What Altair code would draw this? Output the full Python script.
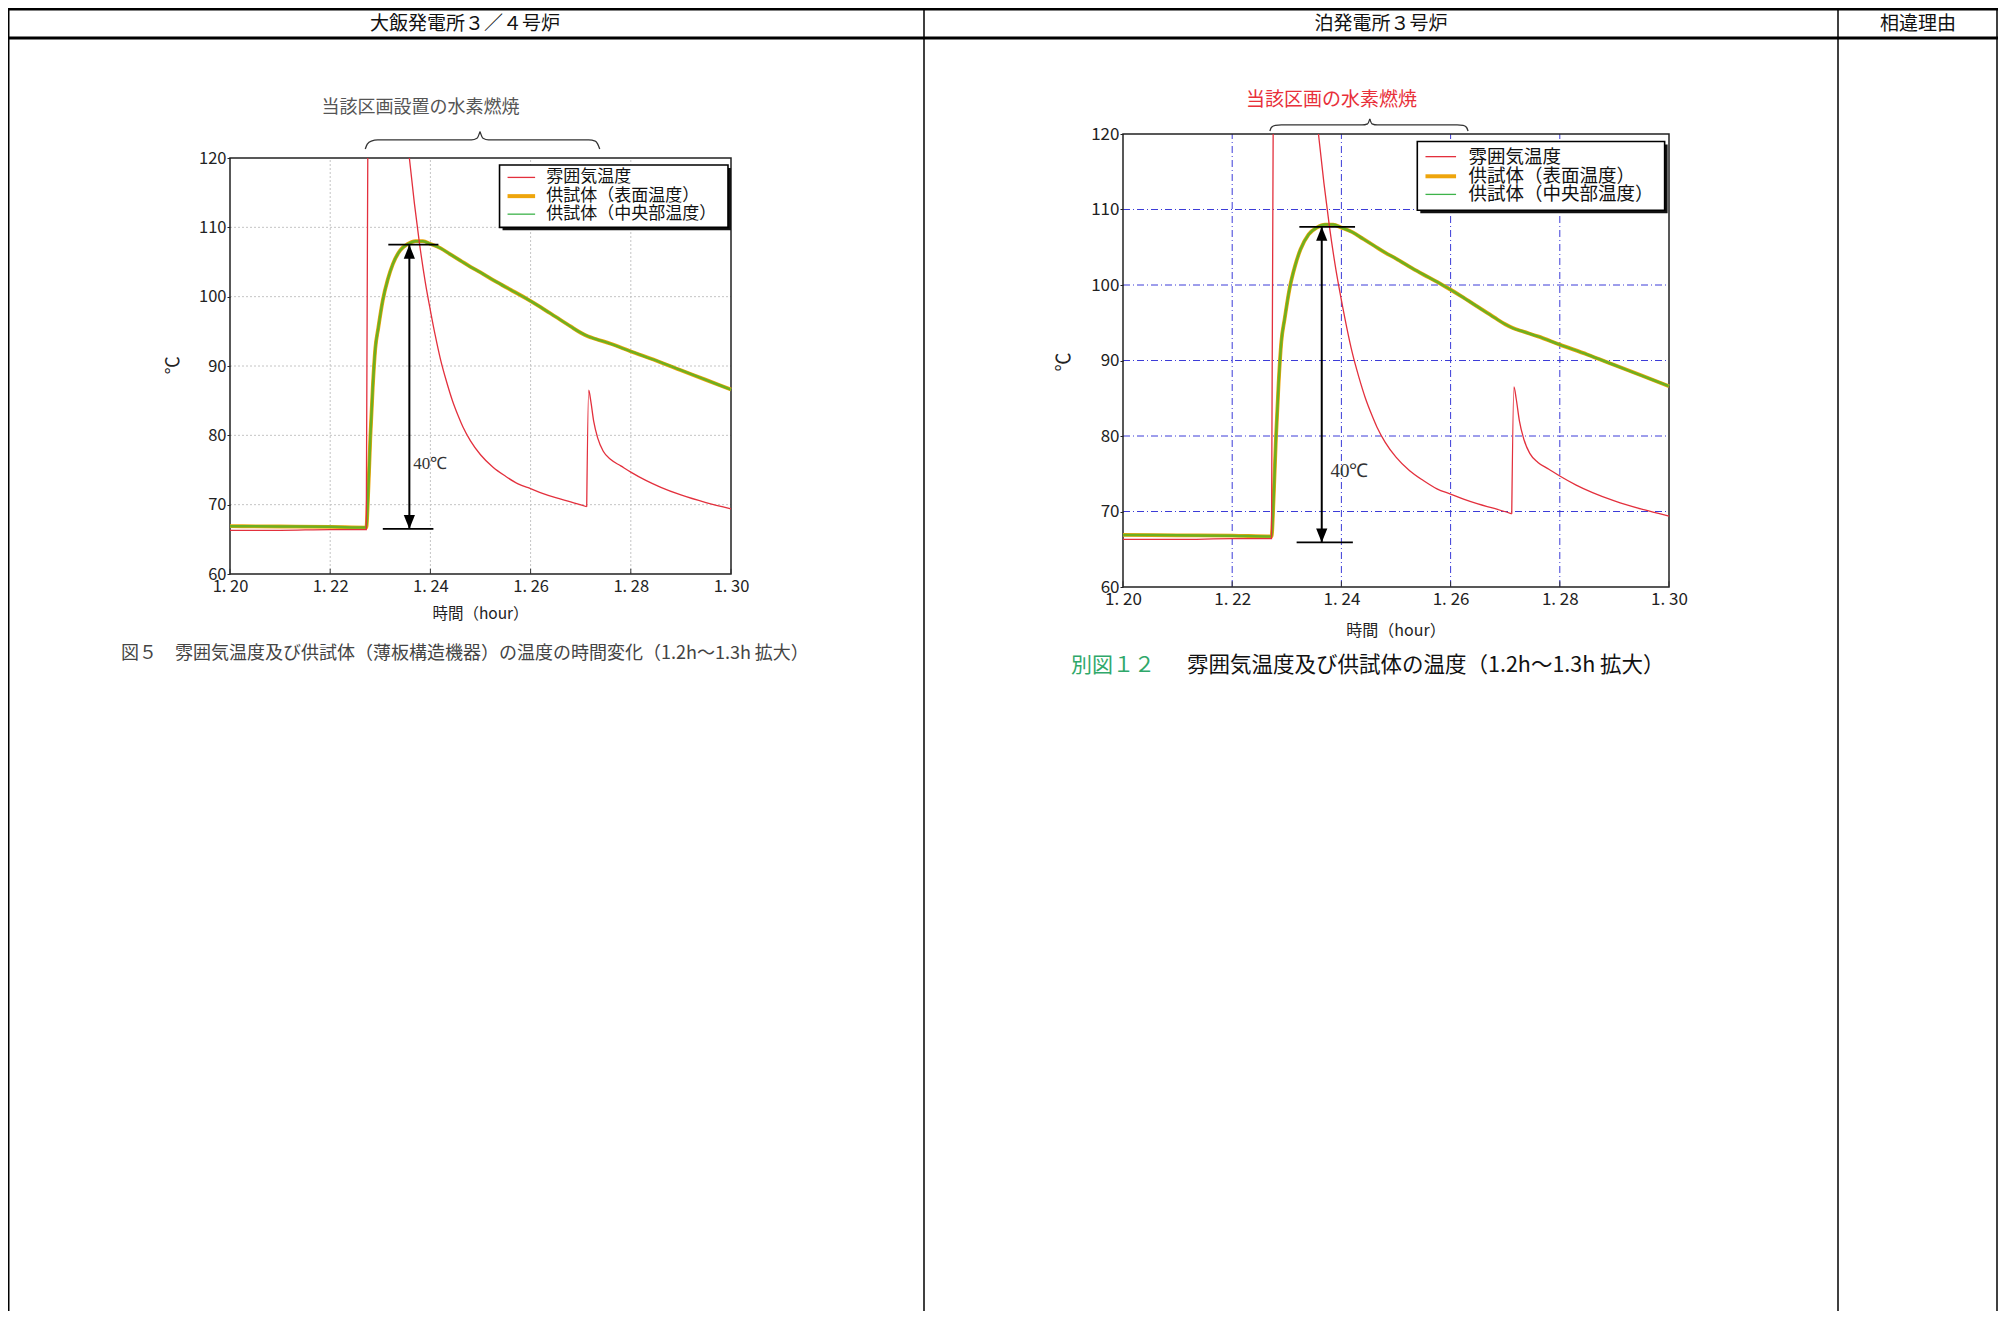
import altair as alt
import pandas as pd

W, H = 1990, 1303
JP = "Noto Sans CJK JP"

# ---------------- values ----------------
x_ticks = [1.20, 1.22, 1.24, 1.26, 1.28, 1.30]
y_ticks = [60, 70, 80, 90, 100, 110, 120]
grid_x = [1.22, 1.24, 1.26, 1.28]
grid_y = [70, 80, 90, 100, 110]

# 雰囲気温度 (red): segment a leaves the top of the plot, b comes back in, c is the second spike
atm_a_t = [1.2000, 1.2100, 1.2200, 1.2272, 1.2275]
atm_a_v = [66.3, 66.3, 66.4, 66.4, 120.0]
atm_b_t = [1.2358, 1.2368, 1.2378, 1.2390, 1.2400, 1.2410, 1.2420, 1.2432, 1.2444,
           1.2455, 1.2465, 1.2480, 1.2500, 1.2525, 1.2550, 1.2575, 1.2600, 1.2625,
           1.2650, 1.2680, 1.2712]
atm_b_v = [120.0, 113.5, 107.8, 102.0, 98.0, 94.3, 91.0, 87.8, 85.0,
           82.9, 81.2, 79.2, 77.2, 75.4, 74.1, 73.0, 72.3, 71.6,
           71.0, 70.4, 69.7]
atm_c_t = [1.2712, 1.2716, 1.2720, 1.2726, 1.2734, 1.2745, 1.2760,
           1.2780, 1.2800, 1.2830, 1.2860, 1.2900, 1.2950, 1.3000]
atm_c_v = [69.7, 86.5, 85.0, 82.0, 79.6, 77.7, 76.5,
           75.6, 74.7, 73.5, 72.5, 71.4, 70.3, 69.4]

# 供試体 (表面温度 / 中央部温度)
spec_t = [1.2000, 1.2100, 1.2200, 1.2272, 1.2276, 1.2280, 1.2285, 1.2290, 1.2296,
          1.2305, 1.2315, 1.2325, 1.2340, 1.2355, 1.2370, 1.2385, 1.2400, 1.2420,
          1.2440, 1.2460, 1.2480, 1.2500, 1.2530, 1.2560, 1.2590, 1.2620, 1.2650,
          1.2680, 1.2700, 1.2714, 1.2730, 1.2760, 1.2800, 1.2850, 1.2900, 1.2950, 1.3000]
surface_v = [66.9, 66.85, 66.8, 66.7, 72.0, 79.5, 87.0, 92.5, 95.5,
             99.5, 102.5, 104.7, 106.7, 107.6, 108.0, 108.0, 107.6, 107.0,
             106.1, 105.2, 104.3, 103.5, 102.2, 101.0, 99.8, 98.5, 97.1,
             95.7, 94.8, 94.3, 93.9, 93.2, 92.1, 90.8, 89.4, 88.0, 86.6]
center_v = [66.9, 66.85, 66.8, 66.7, 72.0, 79.5, 87.0, 92.5, 95.5,
            99.5, 102.5, 104.7, 106.7, 107.6, 108.0, 108.0, 107.6, 107.0,
            106.1, 105.2, 104.3, 103.5, 102.2, 101.0, 99.8, 98.5, 97.1,
            95.7, 94.8, 94.3, 93.9, 93.2, 92.1, 90.8, 89.4, 88.0, 86.6]

legend_labels = ["雰囲気温度", "供試体（表面温度）", "供試体（中央部温度）"]

RED = "#e3303d"
ORANGE = "#eea50c"
GREEN = "#6db020"
LEG_GREEN = "#3db34a"

panels = [
    dict(x0=222, x1=723, ybot=566, ytop=150, grid="#c4c4c4", dash=[2, 2], lab=16.5,
         leg=17, arrow_x=1.2358, a_top=107.5, a_bot=66.5, tbar=(1.2316, 1.2416),
         bbar=(1.2305, 1.2406), l40=(1.2366, 75.9), l40size=17,
         box=(1.2538, 1.2994, 110.0, 119.0), sh=(0.0006, 0.43), samp=(1.2554, 1.2609),
         txt_x=1.2631, rows=[117.2, 114.5, 111.9],
         title="当該区画設置の水素燃焼", title_pos=(1.2380, 127.2), title_color="#555555",
         title_size=18,
         brace_l=[(1.2270, 121.3), (1.2274, 122.0), (1.2282, 122.45), (1.2295, 122.6),
                  (1.2482, 122.6), (1.2493, 122.85), (1.2499, 123.8)],
         brace_r=[(1.2499, 123.8), (1.2505, 122.85), (1.2516, 122.6), (1.2716, 122.6),
                  (1.2729, 122.45), (1.2734, 122.0), (1.2738, 121.3)],
         deg=(1.1888, 90.1), degsize=18, xt=(1.25, 54.2), xtsize=15.5),
    dict(x0=1115, x1=1661, ybot=579, ytop=126, grid="#3c3cd8", dash=[7, 3, 1, 3], lab=17,
         leg=18.5, arrow_x=1.2364, a_top=107.7, a_bot=65.9, tbar=(1.2323, 1.2425),
         bbar=(1.2318, 1.2421), l40=(1.2380, 75.3), l40size=19,
         box=(1.2539, 1.2992, 109.9, 119.0), sh=(0.00055, 0.40), samp=(1.2554, 1.2610),
         txt_x=1.2633, rows=[117.0, 114.4, 112.0],
         title="当該区画の水素燃焼", title_pos=(1.2382, 124.5), title_color="#e8303a",
         title_size=19,
         brace_l=[(1.2269, 120.4), (1.2272, 120.9), (1.2279, 121.15), (1.2290, 121.2),
                  (1.2438, 121.2), (1.2448, 121.35), (1.2452, 122.0)],
         brace_r=[(1.2452, 122.0), (1.2456, 121.35), (1.2466, 121.2), (1.2612, 121.2),
                  (1.2623, 121.15), (1.2629, 120.9), (1.2632, 120.4)],
         deg=(1.1892, 89.8), degsize=19, xt=(1.25, 54.2), xtsize=16),
]


def sx(p):
    return alt.Scale(domain=[1.2, 1.3], range=[p["x0"], p["x1"]], nice=False, zero=False)


def sy(p):
    return alt.Scale(domain=[60, 120], range=[p["ybot"], p["ytop"]], nice=False, zero=False)


def X(field, p, axis=None):
    return alt.X(field, type="quantitative", scale=sx(p), axis=axis)


def Y(field, p, axis=None):
    return alt.Y(field, type="quantitative", scale=sy(p), axis=axis)


layers = []
dummy = pd.DataFrame({"d": [0]})

# ---------------- table frame ----------------
for xv in [0.75, 916, 1830, 1989]:
    layers.append(alt.Chart(dummy).mark_rule(color="black", strokeWidth=1.5).encode(
        x=alt.value(xv), y=alt.value(0), y2=alt.value(H)))
layers.append(alt.Chart(dummy).mark_rule(color="black", strokeWidth=2.5).encode(
    x=alt.value(0), x2=alt.value(W), y=alt.value(1.2)))
layers.append(alt.Chart(dummy).mark_rule(color="black", strokeWidth=3).encode(
    x=alt.value(0), x2=alt.value(W), y=alt.value(30)))

for txt, cx in [("大飯発電所３／４号炉", 457), ("泊発電所３号炉", 1373), ("相違理由", 1910)]:
    layers.append(alt.Chart(dummy).mark_text(font=JP, fontSize=19, color="#111111",
                                             align="center", baseline="middle").encode(
        x=alt.value(cx), y=alt.value(15.5), text=alt.value(txt)))

# ---------------- panels ----------------
for p in panels:
    frame = pd.DataFrame({"a": [1.2], "b": [1.3], "c": [60], "d": [120]})
    gx = pd.DataFrame({"t": grid_x, "lo": [60] * len(grid_x), "hi": [120] * len(grid_x)})
    gy = pd.DataFrame({"v": grid_y, "lo": [1.2] * len(grid_y), "hi": [1.3] * len(grid_y)})
    tk = pd.DataFrame({"t": x_ticks, "lo": [60] * len(x_ticks), "hi": [60.75] * len(x_ticks)})

    layers.append(alt.Chart(gx).mark_rule(color=p["grid"], strokeWidth=1,
                                          strokeDash=p["dash"]).encode(
        x=X("t", p), y=Y("lo", p), y2="hi"))
    layers.append(alt.Chart(gy).mark_rule(color=p["grid"], strokeWidth=1,
                                          strokeDash=p["dash"]).encode(
        y=Y("v", p), x=X("lo", p), x2="hi"))

    xaxis = alt.Axis(orient="bottom", offset=-(H - p["ybot"]), values=x_ticks,
                     labelExpr="replace(format(datum.value, '.2f'), '.', '. ')",
                     labelFont=JP, labelFontSize=p["lab"], labelColor="#222222",
                     labelPadding=4, tickSize=0, domain=False, grid=False,
                     labelFlush=False, labelOverlap=False, title=None)
    yaxis = alt.Axis(orient="left", offset=-p["x0"], values=y_ticks,
                     labelFont=JP, labelFontSize=p["lab"], labelColor="#222222",
                     labelPadding=1, tickSize=3, tickColor="#222222", domain=False,
                     grid=False, labelFlush=False, labelOverlap=False, title=None)
    layers.append(alt.Chart(frame).mark_rect(fillOpacity=0, stroke="#222222",
                                             strokeWidth=1.5).encode(
        x=X("a", p, xaxis), x2="b", y=Y("c", p, yaxis), y2="d"))
    layers.append(alt.Chart(tk).mark_rule(color="#333333", strokeWidth=1).encode(
        x=X("t", p), y=Y("lo", p), y2="hi"))

    # data lines
    surf = pd.DataFrame({"t": spec_t, "v": surface_v})
    cent = pd.DataFrame({"t": spec_t, "v": center_v})
    atm = pd.DataFrame({"t": atm_a_t + atm_b_t + atm_c_t,
                        "v": atm_a_v + atm_b_v + atm_c_v,
                        "seg": ["a"] * len(atm_a_t) + ["b"] * len(atm_b_t) + ["c"] * len(atm_c_t)})
    layers.append(alt.Chart(surf).mark_line(color=ORANGE, strokeWidth=3.8,
                                            interpolate="monotone").encode(
        x=X("t", p), y=Y("v", p)))
    layers.append(alt.Chart(cent).mark_line(color=GREEN, strokeWidth=2.5,
                                            interpolate="monotone").encode(
        x=X("t", p), y=Y("v", p)))
    layers.append(alt.Chart(atm).mark_line(color=RED, strokeWidth=1.3,
                                           interpolate="monotone").encode(
        x=X("t", p), y=Y("v", p), detail="seg:N"))

    # 40℃ arrow
    arr = pd.DataFrame({"t": [p["arrow_x"]], "lo": [p["a_bot"]], "hi": [p["a_top"]]})
    layers.append(alt.Chart(arr).mark_rule(color="black", strokeWidth=2).encode(
        x=X("t", p), y=Y("lo", p), y2="hi"))
    bars = pd.DataFrame({"v": [p["a_top"], p["a_bot"]],
                         "l": [p["tbar"][0], p["bbar"][0]],
                         "r": [p["tbar"][1], p["bbar"][1]]})
    layers.append(alt.Chart(bars).mark_rule(color="black", strokeWidth=1.8).encode(
        y=Y("v", p), x=X("l", p), x2="r"))
    heads_up = pd.DataFrame({"t": [p["arrow_x"]], "v": [p["a_top"]]})
    heads_dn = pd.DataFrame({"t": [p["arrow_x"]], "v": [p["a_bot"]]})
    layers.append(alt.Chart(heads_up).mark_point(shape="M0,0L-0.8,2L0.8,2Z", size=196,
                                                 filled=True, color="black", opacity=1).encode(
        x=X("t", p), y=Y("v", p)))
    layers.append(alt.Chart(heads_dn).mark_point(shape="M0,0L-0.8,-2L0.8,-2Z", size=196,
                                                 filled=True, color="black", opacity=1).encode(
        x=X("t", p), y=Y("v", p)))
    l40 = pd.DataFrame({"t": [p["l40"][0]], "v": [p["l40"][1]], "s": ["40℃"]})
    layers.append(alt.Chart(l40).mark_text(font="Liberation Serif", fontSize=p["l40size"],
                                           color="#333333", align="left",
                                           baseline="middle").encode(
        x=X("t", p), y=Y("v", p), text="s:N"))

    # brace + title
    br = pd.DataFrame({"t": [q[0] for q in p["brace_l"]] + [q[0] for q in p["brace_r"]],
                       "v": [q[1] for q in p["brace_l"]] + [q[1] for q in p["brace_r"]],
                       "h": ["l"] * len(p["brace_l"]) + ["r"] * len(p["brace_r"])})
    layers.append(alt.Chart(br).mark_line(color="#333333", strokeWidth=1.3,
                                          interpolate="monotone").encode(
        x=X("t", p), y=Y("v", p), detail="h:N"))
    ttl = pd.DataFrame({"t": [p["title_pos"][0]], "v": [p["title_pos"][1]], "s": [p["title"]]})
    layers.append(alt.Chart(ttl).mark_text(font=JP, fontSize=p["title_size"],
                                           color=p["title_color"], align="center",
                                           baseline="middle").encode(
        x=X("t", p), y=Y("v", p), text="s:N"))

    # legend
    bx = p["box"]
    shadow = pd.DataFrame({"a": [bx[0] + p["sh"][0]], "b": [bx[1] + p["sh"][0]],
                           "c": [bx[2] - p["sh"][1]], "d": [bx[3] - p["sh"][1]]})
    box = pd.DataFrame({"a": [bx[0]], "b": [bx[1]], "c": [bx[2]], "d": [bx[3]]})
    layers.append(alt.Chart(shadow).mark_rect(color="#111111").encode(
        x=X("a", p), x2="b", y=Y("c", p), y2="d"))
    layers.append(alt.Chart(box).mark_rect(fill="white", stroke="black",
                                           strokeWidth=1.6).encode(
        x=X("a", p), x2="b", y=Y("c", p), y2="d"))
    for i, (col, sw) in enumerate([(RED, 1.3), (ORANGE, 4), (LEG_GREEN, 1.3)]):
        smp = pd.DataFrame({"l": [p["samp"][0]], "r": [p["samp"][1]], "v": [p["rows"][i]]})
        layers.append(alt.Chart(smp).mark_rule(color=col, strokeWidth=sw).encode(
            x=X("l", p), x2="r", y=Y("v", p)))
    lt = pd.DataFrame({"t": [p["txt_x"]] * 3, "v": p["rows"], "s": legend_labels})
    layers.append(alt.Chart(lt).mark_text(font=JP, fontSize=p["leg"], color="#111111",
                                          align="left", baseline="middle").encode(
        x=X("t", p), y=Y("v", p), text="s:N"))

    # axis titles
    at = pd.DataFrame({"t": [p["xt"][0]], "v": [p["xt"][1]], "s": ["時間（hour）"]})
    layers.append(alt.Chart(at).mark_text(font=JP, fontSize=p["xtsize"], color="#222222",
                                          align="center", baseline="middle").encode(
        x=X("t", p), y=Y("v", p), text="s:N"))
    dg = pd.DataFrame({"t": [p["deg"][0]], "v": [p["deg"][1]], "s": ["℃"]})
    layers.append(alt.Chart(dg).mark_text(font=JP, fontSize=p["degsize"], color="#222222",
                                          align="center", baseline="middle",
                                          angle=270).encode(
        x=X("t", p), y=Y("v", p), text="s:N"))

# ---------------- captions ----------------
layers.append(alt.Chart(dummy).mark_text(font=JP, fontSize=18, color="#444444",
                                         align="left", baseline="middle").encode(
    x=alt.value(113), y=alt.value(646),
    text=alt.value("図５　雰囲気温度及び供試体（薄板構造機器）の温度の時間変化（1.2h～1.3h 拡大）")))
layers.append(alt.Chart(dummy).mark_text(font=JP, fontSize=21, color="#2fa86a",
                                         align="left", baseline="middle").encode(
    x=alt.value(1063), y=alt.value(658), text=alt.value("別図１２")))
layers.append(alt.Chart(dummy).mark_text(font=JP, fontSize=21.5, color="#111111",
                                         align="left", baseline="middle").encode(
    x=alt.value(1179), y=alt.value(658),
    text=alt.value("雰囲気温度及び供試体の温度（1.2h～1.3h 拡大）")))

chart = alt.layer(*layers).resolve_scale(
    x="independent", y="independent"
).resolve_axis(
    x="independent", y="independent"
).properties(
    width=W, height=H, padding=0, background="white",
    autosize=alt.AutoSizeParams(type="none")
).configure_view(strokeWidth=0)

chart.save("out.html", embed_options={"renderer": "svg", "actions": False})
